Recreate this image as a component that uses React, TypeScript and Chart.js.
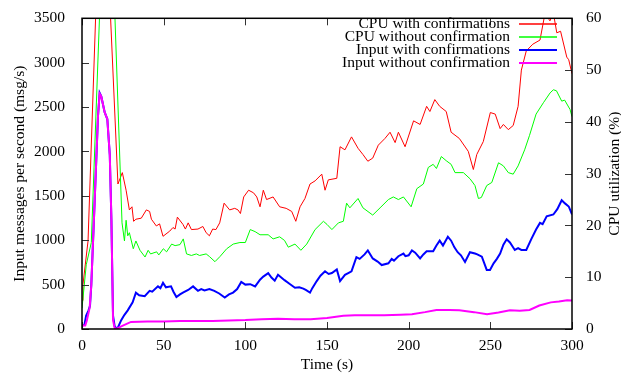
import React, { useEffect, useRef } from 'react';
import { Chart, registerables } from 'chart.js';

Chart.register(...registerables);

const FONT = '"Liberation Serif", "Times New Roman", Times, serif';

const xTicks = [0, 50, 100, 150, 200, 250, 300];
const yLeftTicks = [0, 500, 1000, 1500, 2000, 2500, 3000, 3500];
const yRightTicks = [0, 10, 20, 30, 40, 50, 60];

const legendLabels = [
  'CPU with confirmations',
  'CPU without confirmation',
  'Input with confirmations',
  'Input without confirmation',
];
const seriesColors = ['#ff0000', '#00ff00', '#0000ff', '#ff00ff'];
const seriesWidths = [1, 1, 2, 2];

const xTitle = 'Time (s)';
const yLeftTitle = 'Input messages per second (msg/s)';
const yRightTitle = 'CPU utilization (%)';

// CPU utilization (%) with confirmations [time s, %]
const cpuWithConfirmations: [number, number][] = [
  [0, 5.5], [0.6, 8.6], [3.7, 17], [11, 85], [14, 85], [22, 28], [24.7, 30.2], [27, 26.8],
  [29, 23], [30.6, 23.6], [31.6, 20.8], [33, 21.2], [36.3, 21.4], [39.4, 23], [41.4, 22.7],
  [42.5, 21.2], [45.5, 19.9], [47.5, 20.3], [49.6, 17.9], [53.7, 18.9], [55.7, 19.6], [57, 19.3],
  [58.4, 21.6], [61.8, 20.2], [63.3, 19.3], [65, 20.5], [67, 19.2], [71, 19.3], [74, 19.8],
  [76, 18.6], [78, 18], [80, 19.3], [82, 19.2], [84.3, 20.5], [87, 24.3], [90.4, 23], [93.5, 23.3],
  [95.5, 23], [97, 22.3], [99, 25.5], [102, 26.8], [105, 26.3], [107, 25.5], [109, 23.6],
  [111, 26.8], [113, 25], [117, 25.5], [121, 23.6], [125, 23.3], [128.4, 22.7], [130.9, 20.8],
  [133.5, 23.6], [136.5, 25.2], [139.6, 28], [142.7, 28.6], [146.8, 29.9], [148.8, 26.8],
  [150.8, 28.8], [156, 29.1], [158, 35.2], [161, 34.6], [165, 37.1], [169, 34.9], [172, 33.7],
  [175, 32.4], [178, 33], [181.4, 35.5], [185.5, 36.8], [188.6, 38], [191.7, 36], [193.7, 38],
  [197.8, 35.2], [203, 40.2], [207, 39.5], [211, 43], [213, 42], [216, 44.3], [219, 43],
  [223, 42], [226, 38], [231, 36.8], [236.5, 34.3], [239.6, 30.8], [241.7, 33.7], [245.7, 36.2],
  [250, 41.8], [253, 41.5], [256, 38.7], [258, 39.5], [261, 38.5], [264, 39.3], [267, 43],
  [269, 50], [272, 53.7], [276, 55], [280.4, 55.8], [283.5, 61], [286.5, 59.5], [288.6, 61],
  [290.7, 57.2], [293, 57.5], [296.8, 52.5], [298, 52], [300, 49.3],
];

// CPU utilization (%) without confirmation [time s, %]
const cpuWithoutConfirmation: [number, number][] = [
  [0, 4], [2.6, 12.4], [5.7, 16.7], [13, 80], [18, 80], [24.5, 20.5], [26, 17], [27, 21],
  [28, 18], [29, 18.6], [31.4, 15.5], [33, 17], [35.5, 15.2], [38.6, 13.9], [40.5, 15.2],
  [42, 14.5], [45.7, 14.9], [47, 14.3], [49.8, 15.5], [51.8, 14.9], [54.9, 16.4], [57, 16.1],
  [60, 16.3], [62, 17.4], [64, 14.5], [67, 14.2], [70, 14.5], [72, 14.2], [76, 14.5], [78, 14],
  [81.4, 13], [84.5, 14], [88.6, 15.5], [92.6, 16.4], [96.7, 16.7], [100, 16.7], [103, 19.2],
  [106, 18.8], [109, 18.2], [114, 18.2], [117, 17.4], [121, 17.8], [124, 17.1], [126.3, 15.8],
  [130.4, 16.4], [134, 15.2], [137.6, 16.4], [142.7, 19.2], [147.8, 20.8], [150, 20.2],
  [153, 19.2], [157, 20.5], [160, 20.8], [162, 24.3], [164, 23.4], [169, 25.2], [172, 23.4],
  [178, 22], [182.5, 23.4], [187.6, 25], [190.6, 25.5], [193.7, 25], [196.8, 25.5],
  [201.5, 23.6], [205, 27.1], [209, 28], [212, 31.2], [215, 31.8], [217, 31], [220, 33.3],
  [223, 32.5], [226, 31.8], [228.4, 30.2], [233.5, 30.2], [237.6, 29], [240.6, 27.7],
  [242.7, 25.2], [244.5, 25.4], [247.8, 27.7], [250.9, 28.3], [255, 32.1], [258, 31.5],
  [261, 30.2], [264, 29.9], [267, 31.5], [271, 34.6], [274, 37.4], [278, 41.5], [282.5, 43.7],
  [286.6, 45.6], [288.6, 46.2], [290.5, 46], [293.7, 44], [295.5, 44.2], [298.8, 42.4], [300, 41],
];

// Input messages per second with confirmations [time s, msg/s]
const inputWithConfirmations: [number, number][] = [
  [0, 40], [1.5, 45], [2.5, 150], [4, 210], [4.9, 260], [5.7, 500], [7.7, 1415], [9.8, 2400],
  [10.8, 2660], [11.8, 2620], [13.9, 2440], [15.5, 2365], [17, 1965], [18, 1230], [19, 150],
  [20, 30], [21.6, 0], [24, 100], [26, 160], [28, 210], [31, 300], [33, 410], [35, 380],
  [38.4, 370], [41.4, 430], [43, 420], [46.5, 480], [48, 460], [49.6, 520], [51.4, 470],
  [54.5, 480], [56, 420], [57.8, 360], [60, 390], [61.8, 410], [65, 440], [68, 480], [71, 430],
  [73, 450], [75, 435], [78, 450], [81, 430], [84, 400], [87.4, 355], [90, 390], [92.5, 410],
  [95, 450], [97.5, 530], [100, 500], [103, 505], [106, 480], [109, 555], [111, 590], [114, 630],
  [116, 580], [118, 545], [120, 610], [122, 580], [124, 550], [127, 510], [130.4, 465],
  [133, 470], [135.5, 455], [137, 440], [139.6, 410], [141, 460], [143.7, 540], [146, 600],
  [148.8, 650], [151, 620], [153, 630], [156, 670], [158, 540], [161, 610], [163, 630],
  [165, 650], [168, 810], [170, 790], [173, 840], [175, 885], [178, 795], [181, 760],
  [183.5, 720], [187.6, 740], [189.6, 790], [191, 770], [193.7, 820], [196.8, 850], [198, 820],
  [200, 830], [202, 885], [204, 860], [207, 795], [209, 840], [211, 875], [215, 875], [217, 940],
  [219, 995], [221, 940], [224, 1040], [226, 995], [228, 920], [230, 865], [232, 830],
  [234.5, 755], [237.5, 865], [240.6, 850], [242, 840], [244.8, 815], [247.8, 665],
  [249.8, 665], [252, 740], [254, 790], [256, 850], [258, 950], [260, 1010], [262, 975],
  [265, 890], [267, 910], [269, 890], [272, 890], [275, 1010], [278, 1120], [280.4, 1195],
  [282, 1180], [284.5, 1270], [288.6, 1290], [291, 1350], [293.7, 1450], [295.7, 1415],
  [298, 1380], [300, 1290],
];

// Input messages per second without confirmation [time s, msg/s]
const inputWithoutConfirmation: [number, number][] = [
  [0, 40], [2, 40], [3, 100], [4.7, 240], [5.7, 500], [7.7, 1415], [9.8, 2400], [10.8, 2650],
  [11.8, 2620], [13.9, 2440], [15.5, 2365], [17, 1965], [18, 1230], [19, 100], [20, 10], [21, 0],
  [24, 30], [27, 55], [30, 80], [40, 85], [50, 85], [60, 90], [70, 90], [80, 90], [90, 95],
  [100, 100], [110, 110], [120, 115], [130, 110], [140, 110], [150, 125], [160, 150], [167, 155],
  [175, 155], [185, 155], [195, 160], [202, 165], [210, 190], [217, 215], [225, 215], [231, 210],
  [240, 190], [248, 165], [255, 185], [262, 210], [268, 205], [274, 215], [280, 265], [287, 300],
  [292, 310], [297, 325], [300, 320],
];

const seriesData = [cpuWithConfirmations, cpuWithoutConfirmation, inputWithConfirmations, inputWithoutConfirmation];
const seriesAxis = ['y2', 'y2', 'y', 'y'];

const framePlugin = {
  id: 'gnuFrame',
  afterDraw(chart: any) {
    const { ctx, chartArea: a, scales } = chart;
    ctx.save();
    const L = 7;
    ctx.strokeStyle = '#333';
    ctx.lineWidth = 1;
    ctx.beginPath();
    for (const v of xTicks) {
      const x = Math.round(scales.x.getPixelForValue(v)) + 0.5;
      ctx.moveTo(x, a.bottom); ctx.lineTo(x, a.bottom - L);
      ctx.moveTo(x, a.top); ctx.lineTo(x, a.top + L);
    }
    for (const v of yLeftTicks) {
      const y = Math.round(scales.y.getPixelForValue(v)) + 0.5;
      ctx.moveTo(a.left, y); ctx.lineTo(a.left + L, y);
    }
    for (const v of yRightTicks) {
      const y = Math.round(scales.y2.getPixelForValue(v)) + 0.5;
      ctx.moveTo(a.right, y); ctx.lineTo(a.right - L, y);
    }
    ctx.stroke();
    ctx.strokeStyle = '#000';
    ctx.lineWidth = 1.5;
    ctx.strokeRect(a.left, a.top, a.right - a.left, a.bottom - a.top);

    // legend (gnuplot key style: right-aligned text, sample to the right)
    ctx.font = `15.5px ${FONT}`;
    ctx.fillStyle = '#000';
    ctx.textAlign = 'right';
    ctx.textBaseline = 'middle';
    const rowY = [24, 37, 50, 63];
    legendLabels.forEach((lab, i) => {
      ctx.fillStyle = '#000';
      ctx.fillText(lab, 510, rowY[i]);
      ctx.strokeStyle = seriesColors[i];
      ctx.lineWidth = seriesWidths[i] === 1 ? 1.3 : 2;
      ctx.beginPath();
      ctx.moveTo(519, rowY[i]);
      ctx.lineTo(557, rowY[i]);
      ctx.stroke();
    });

    // axis titles
    ctx.fillStyle = '#000';
    ctx.textAlign = 'center';
    ctx.textBaseline = 'middle';
    ctx.fillText(xTitle, (a.left + a.right) / 2, 365);
    ctx.save();
    ctx.translate(19.5, (a.top + a.bottom) / 2);
    ctx.rotate(-Math.PI / 2);
    ctx.fillText(yLeftTitle, 0, 0);
    ctx.restore();
    ctx.save();
    ctx.translate(615, (a.top + a.bottom) / 2);
    ctx.rotate(-Math.PI / 2);
    ctx.fillText(yRightTitle, 0, 0);
    ctx.restore();
    ctx.restore();
  },
};

const plainTick = (v: any) => String(v);

export default function App() {
  const ref = useRef<HTMLCanvasElement>(null);
  useEffect(() => {
    document.body.style.margin = '0';
    const canvas = ref.current!;
    const order = [4, 3, 2, 1];
    const chart = new Chart(canvas, {
      type: 'line',
      data: {
        datasets: seriesData.map((d, i) => ({
          label: legendLabels[i],
          data: d.map(([x, y]) => ({ x, y })),
          borderColor: seriesColors[i],
          backgroundColor: seriesColors[i],
          borderWidth: seriesWidths[i],
          pointRadius: 0,
          tension: 0,
          yAxisID: seriesAxis[i],
          order: order[i],
        })),
      },
      options: {
        responsive: false,
        animation: false,
        events: [],
        layout: { padding: { top: 10, left: 0, right: 0, bottom: 0 } },
        plugins: { legend: { display: false }, tooltip: { enabled: false } },
        scales: {
          x: {
            type: 'linear',
            min: 0,
            max: 300,
            afterBuildTicks: (s: any) => { s.ticks = xTicks.map((v) => ({ value: v })); },
            afterFit: (s: any) => { s.height = 49; },
            grid: { display: false },
            border: { display: false },
            ticks: { font: { family: FONT, size: 15.5 }, color: '#000', padding: 0, maxRotation: 0, callback: plainTick },
          },
          y: {
            type: 'linear',
            position: 'left',
            min: 0,
            max: 3500,
            afterBuildTicks: (s: any) => { s.ticks = yLeftTicks.map((v) => ({ value: v })); },
            afterFit: (s: any) => { s.width = 82; },
            grid: { display: false },
            border: { display: false },
            ticks: { font: { family: FONT, size: 15.5 }, color: '#000', padding: 9, callback: plainTick },
          },
          y2: {
            type: 'linear',
            position: 'right',
            min: 0,
            max: 60,
            afterBuildTicks: (s: any) => { s.ticks = yRightTicks.map((v) => ({ value: v })); },
            afterFit: (s: any) => { s.width = 49; },
            grid: { display: false },
            border: { display: false },
            ticks: { font: { family: FONT, size: 15.5 }, color: '#000', padding: 6, callback: plainTick },
          },
        },
      },
      plugins: [framePlugin],
    } as any);
    return () => chart.destroy();
  }, []);
  return (
    <div style={{ position: 'fixed', left: 0, top: 0 }}>
      <canvas ref={ref} width={621} height={378} style={{ display: 'block' }} />
    </div>
  );
}
